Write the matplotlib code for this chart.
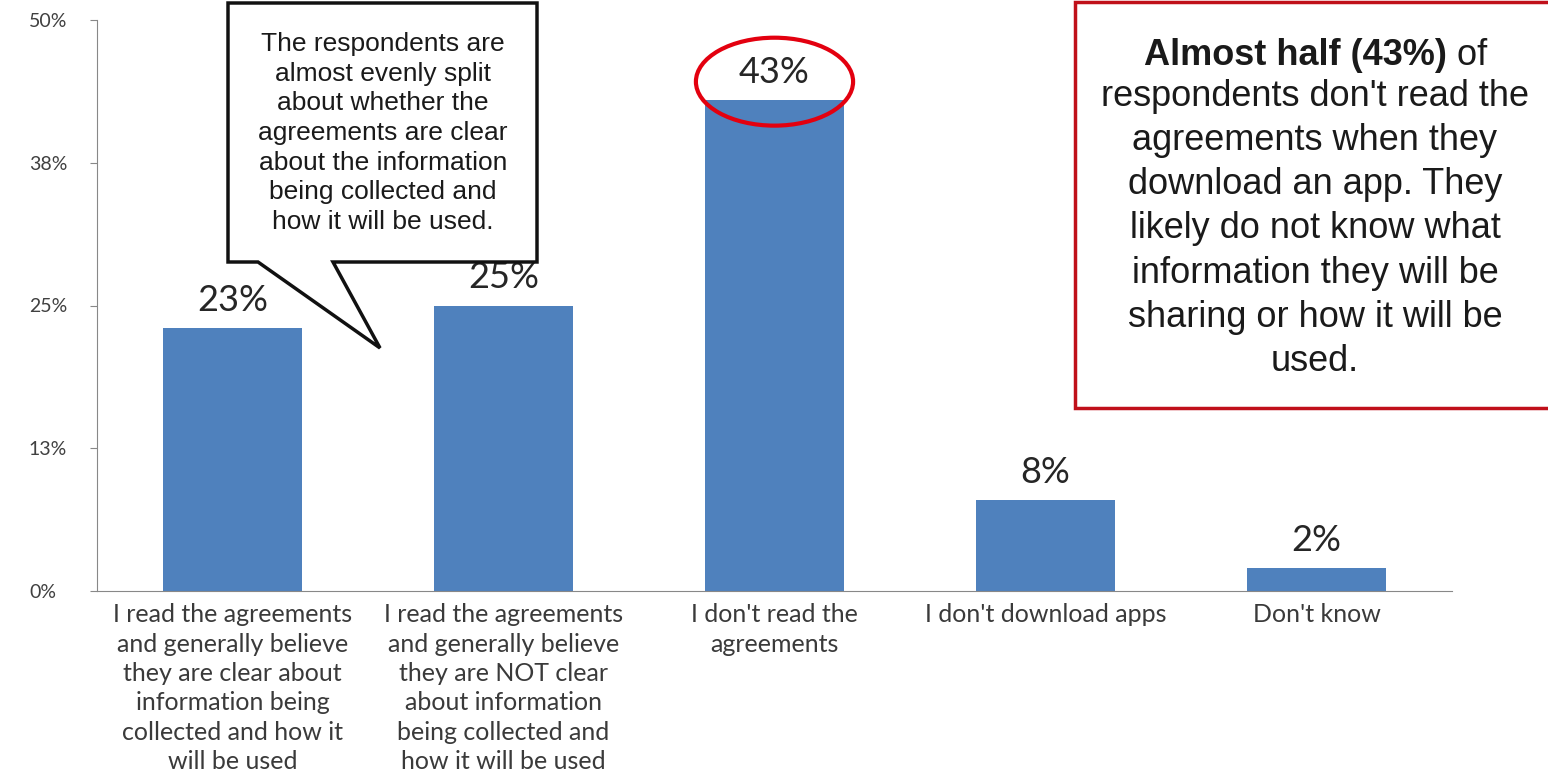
import matplotlib.pyplot as plt
from matplotlib.patches import Ellipse, Polygon, Rectangle

categories = [
    "I read the agreements\nand generally believe\nthey are clear about\ninformation being\ncollected and how it\nwill be used",
    "I read the agreements\nand generally believe\nthey are NOT clear\nabout information\nbeing collected and\nhow it will be used",
    "I don't read the\nagreements",
    "I don't download apps",
    "Don't know",
]
values = [23, 25, 43, 8, 2]
value_labels = ["23%", "25%", "43%", "8%", "2%"]
y_ticks = [0, 12.5, 25, 37.5, 50]
y_tick_labels = ["0%", "13%", "25%", "38%", "50%"]

callout_text = ("The respondents are\nalmost evenly split\nabout whether the\n"
                "agreements are clear\nabout the information\nbeing collected and\n"
                "how it will be used.")
box_bold = "Almost half (43%)"
box_rest = (" of",
            "respondents don't read the\nagreements when they\ndownload an app. They\n"
            "likely do not know what\ninformation they will be\nsharing or how it will be\nused.")

bar_color = "#4F81BD"
label_font = "Lato"
note_font = "Liberation Sans"

fig = plt.figure(figsize=(15.48, 7.78), dpi=100)
W, H = 1548, 778
ax = fig.add_axes([97 / W, 1 - 591 / H, (1452 - 97) / W, (591 - 20) / H])

x = range(len(categories))
bars = ax.bar(x, values, width=0.51, color=bar_color)

for b, lab in zip(bars, value_labels):
    ax.annotate(lab, (b.get_x() + b.get_width() / 2, b.get_height()),
                xytext=(0, 8), textcoords="offset points",
                ha="center", va="bottom", fontsize=26, family=label_font,
                color="#262626")

ax.set_xlim(-0.5, len(categories) - 0.5)
ax.set_ylim(0, 50)
ax.set_yticks(y_ticks)
ax.set_yticklabels(y_tick_labels, family=label_font, fontsize=14, color="#404040")
ax.set_xticks(list(x))
ax.set_xticklabels(categories, family=label_font, fontsize=18, color="#3a3a3a",
                   linespacing=1.33, va="top")
ax.tick_params(axis="x", length=0, pad=9)
ax.tick_params(axis="y", length=5, color="#888888", pad=44)
for lab in ax.get_yticklabels():
    lab.set_horizontalalignment("left")
for s in ["top", "right"]:
    ax.spines[s].set_visible(False)
ax.spines["left"].set_color("#888888")
ax.spines["bottom"].set_color("#888888")

# red ellipse around the largest bar label
imax = values.index(max(values))
ax.add_patch(Ellipse((imax, values[imax] + 1.6), 0.58, 7.7, fill=False,
                     edgecolor="#e3000f", linewidth=3, clip_on=False, zorder=5))

# speech-bubble callout (figure pixel coordinates)
def px(xp, yp):
    return (xp / W, 1 - yp / H)

bubble = Polygon([px(228, 3), px(537, 3), px(537, 262), px(333, 262), px(380, 348),
                  px(258, 262), px(228, 262)], closed=True, transform=fig.transFigure,
                 facecolor="white", edgecolor="#111111", linewidth=2.5, zorder=10)
fig.patches.append(bubble)
fig.text(*px(383, 133), callout_text, ha="center", va="center", fontsize=19,
         family=note_font, color="#1a1a1a", linespacing=1.3, zorder=11)

# red summary box
box = Rectangle(px(1075, 408), (1560 - 1075) / W, 406 / H, transform=fig.transFigure,
                facecolor="white", edgecolor="#c0101a", linewidth=2.5, zorder=10)
fig.patches.append(box)
t_bold = fig.text(0, 0, box_bold, fontsize=26, family=note_font, weight="bold",
                  color="#1a1a1a", va="baseline", zorder=11)
t_of = fig.text(0, 0, box_rest[0], fontsize=26, family=note_font,
                color="#1a1a1a", va="baseline", zorder=11)
fig.text(*px(1315, 371), box_rest[1], ha="center", va="baseline", fontsize=26,
         family=note_font, color="#1a1a1a", linespacing=1.34, zorder=11)

fig.canvas.draw()
r = fig.canvas.get_renderer()
wb = t_bold.get_window_extent(r).width
wo = t_of.get_window_extent(r).width
x0 = 1316 - (wb + wo) / 2
t_bold.set_position(px(x0, 65))
t_of.set_position(px(x0 + wb, 65))

fig.savefig("out.png", dpi=100)
